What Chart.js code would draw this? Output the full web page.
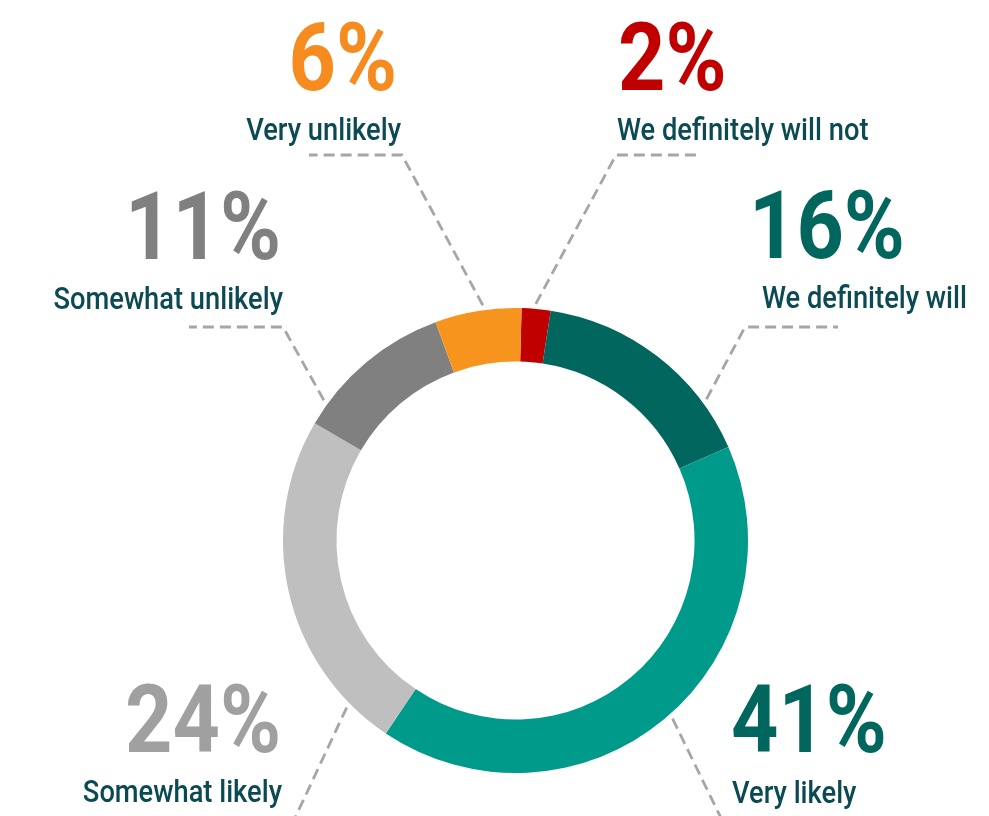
<!DOCTYPE html>
<html>
<head>
<meta charset="utf-8">
<script src="https://cdn.jsdelivr.net/npm/chart.js@4/dist/chart.umd.min.js"></script>
<style>
  html, body { margin: 0; padding: 0; background: #fff; }
  #wrap { width: 989px; height: 816px; }
</style>
</head>
<body>
<div id="wrap"><canvas id="donut"></canvas></div>
<script>
// data, clockwise from the top
var labels = ["We definitely will not", "We definitely will", "Very likely", "Somewhat likely", "Somewhat unlikely", "Very unlikely"];
var values = [2, 16, 41, 24, 11, 6];

var segmentColors = ["#c00000", "#00665e", "#009a8a", "#bfbfbf", "#808080", "#f7941d"];
var percentColors = ["#c00000", "#00665e", "#00665e", "#a0a0a0", "#808080", "#f68b1f"];
var labelColor = "#0b4a53";

// callout layout, offsets from the doughnut centre (px); angle in degrees from 12 o'clock
var callouts = [
  { angle: 4.9,   elbow: [100.5, -385.5], tail: [182.5, -385.5], align: "left",  pct: [102.5, -450.5], lab: [101.5, -400.5] },
  { angle: 53.5,  elbow: [229.5, -213.5], tail: [322.5, -213.5], align: "left",  pct: [233.5, -282.5], lab: [246.5, -232.5] },
  { angle: 138.6, elbow: null,            tail: [205.5, 277.5],  align: "left",  pct: [215.5, 211.5],  lab: [216.5, 262.5] },
  { angle: 225.3, elbow: null,            tail: [-220.5, 277.5], align: "right", pct: [-234.5, 211.5], lab: [-233.5, 261.5] },
  { angle: 306.2, elbow: [-232.5, -213.5], tail: [-326.5, -213.5], align: "right", pct: [-234.5, -281.5], lab: [-232.5, -231.5] },
  { angle: 352.1, elbow: [-113.5, -385.5], tail: [-206.5, -385.5], align: "right", pct: [-118.5, -450.5], lab: [-114.5, -400.5] }
];

function drawText(ctx, text, x, y, font, color, align, sx) {
  ctx.save();
  ctx.translate(x, y);
  ctx.scale(sx, 1);
  ctx.font = font;
  ctx.fillStyle = color;
  ctx.textAlign = align;
  ctx.textBaseline = "alphabetic";
  ctx.fillText(text, 0, 0);
  ctx.restore();
}

var calloutPlugin = {
  id: "callouts",
  afterDraw: function(chart) {
    var ctx = chart.ctx;
    var arcs = chart.getDatasetMeta(0).data;
    var cx = arcs[0].x, cy = arcs[0].y, r = arcs[0].outerRadius;
    var total = values.reduce(function(a, b) { return a + b; }, 0);

    callouts.forEach(function(c, i) {
      var a = c.angle * Math.PI / 180;
      var sx = cx + Math.sin(a) * (r + 5);
      var sy = cy - Math.cos(a) * (r + 5);

      ctx.save();
      ctx.strokeStyle = "#a6a6a6";
      ctx.lineWidth = 2.8;
      ctx.setLineDash([11, 6]);
      ctx.beginPath();
      ctx.moveTo(sx, sy);
      if (c.elbow) ctx.lineTo(cx + c.elbow[0], cy + c.elbow[1]);
      ctx.lineTo(cx + c.tail[0], cy + c.tail[1]);
      ctx.stroke();
      ctx.restore();

      var pct = Math.round(values[i] / total * 100) + "%";
      drawText(ctx, pct, cx + c.pct[0], cy + c.pct[1], "bold 95px Roboto", percentColors[i], c.align, 0.87);
      drawText(ctx, labels[i], cx + c.lab[0], cy + c.lab[1], "500 31px Roboto", labelColor, c.align, 0.88);
    });
  }
};

var chart = new Chart(document.getElementById("donut").getContext("2d"), {
  type: "doughnut",
  data: {
    labels: labels,
    datasets: [{
      data: values,
      backgroundColor: segmentColors,
      borderWidth: 0
    }]
  },
  options: {
    responsive: true,
    maintainAspectRatio: false,
    animation: false,
    rotation: 1.5,
    cutout: "77%",
    layout: { padding: { left: 283, right: 241, top: 308, bottom: 43 } },
    plugins: {
      legend: { display: false },
      tooltip: { enabled: false }
    }
  },
  plugins: [calloutPlugin]
});
</script>
</body>
</html>
